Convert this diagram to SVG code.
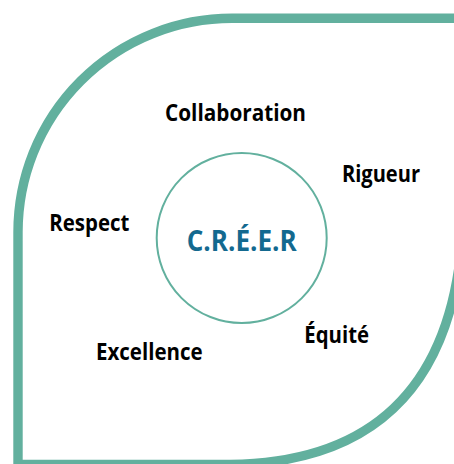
<svg xmlns="http://www.w3.org/2000/svg" width="454" height="464" viewBox="0 0 454 464">
<style>
.frame{fill:none;stroke:#62B09E;stroke-width:9.4}
.ring{fill:none;stroke:#62B09E;stroke-width:2}
.lbl{font-family:"Open Sans","Noto Sans","Liberation Sans",sans-serif;font-weight:700;font-size:23.5px;fill:#000}
.core{font-family:"Open Sans","Noto Sans","Liberation Sans",sans-serif;font-weight:700;font-size:29px;fill:#13698F}
</style>
<rect width="454" height="464" fill="#fff"/>
<g id="frame">
<path class="frame" d="M 460,18.3 H 232 A 214 214 0 0 0 18 232 V 464.5 H 230 C 368,463 450,392 462,240"/>
</g>
<g id="center">
<circle class="ring" cx="241.7" cy="238" r="85"/>
<text class="core" x="186.7" y="250.7" textLength="110" lengthAdjust="spacingAndGlyphs">C.R.É.E.R</text>
</g>
<g id="collaboration"><text class="lbl" x="165" y="120.5" textLength="141" lengthAdjust="spacingAndGlyphs">Collaboration</text></g>
<g id="rigueur"><text class="lbl" x="342" y="182" textLength="78" lengthAdjust="spacingAndGlyphs">Rigueur</text></g>
<g id="respect"><text class="lbl" x="49.3" y="231" textLength="80" lengthAdjust="spacingAndGlyphs">Respect</text></g>
<g id="excellence"><text class="lbl" x="96" y="360.3" textLength="106.7" lengthAdjust="spacingAndGlyphs">Excellence</text></g>
<g id="equite"><text class="lbl" x="304.3" y="343.3" textLength="64.7" lengthAdjust="spacingAndGlyphs">Équité</text></g>
</svg>
